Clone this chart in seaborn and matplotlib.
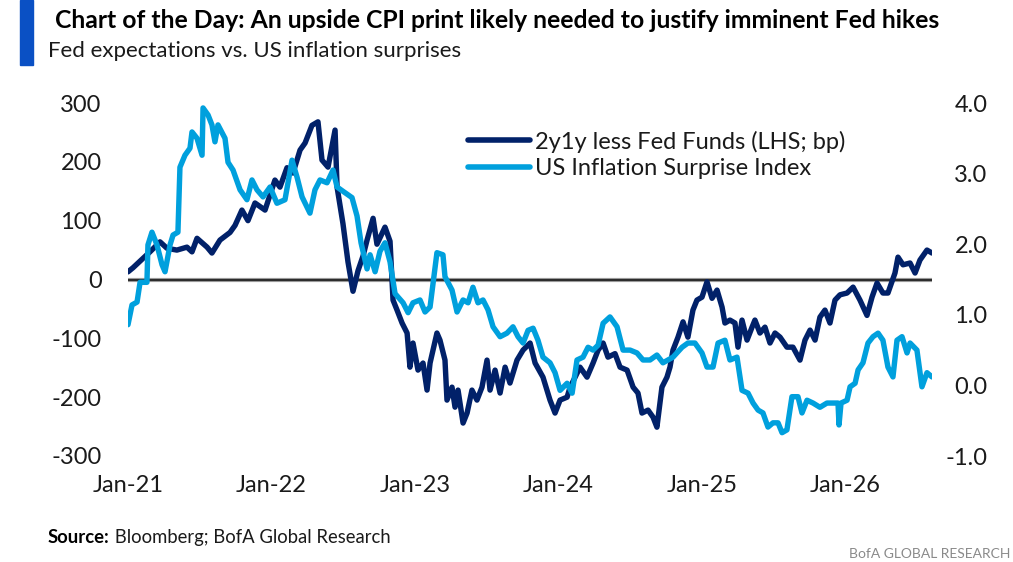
import numpy as np
import pandas as pd
import matplotlib
matplotlib.use("Agg")
import matplotlib.pyplot as plt
import seaborn as sns
from matplotlib.patches import Rectangle

# ---------------- data ----------------
# time in years since 1 Jan 2021
navy_t = [0.000, 0.035, 0.153, 0.223, 0.272, 0.341, 0.411, 0.446, 0.481, 0.551, 0.585, 0.641,
          0.711, 0.746, 0.794, 0.836, 0.885, 0.955, 1.024, 1.059, 1.108, 1.150, 1.199, 1.234,
          1.282, 1.324, 1.352, 1.394, 1.443, 1.457, 1.498, 1.533, 1.568, 1.603, 1.638, 1.666,
          1.708, 1.735, 1.791, 1.826, 1.847, 1.875, 1.910, 1.945, 1.965, 1.986, 2.021, 2.056,
          2.084, 2.105, 2.153, 2.174, 2.209, 2.223, 2.258, 2.279, 2.300, 2.335, 2.363, 2.397,
          2.432, 2.467, 2.502, 2.523, 2.558, 2.593, 2.628, 2.662, 2.711, 2.753, 2.802, 2.837,
          2.892, 2.941, 2.976, 3.011, 3.060, 3.081, 3.116, 3.150, 3.199, 3.241, 3.276, 3.311,
          3.345, 3.394, 3.429, 3.478, 3.520, 3.554, 3.582, 3.624, 3.659, 3.686, 3.721, 3.756,
          3.777, 3.798, 3.833, 3.868, 3.902, 3.937, 3.965, 4.000, 4.035, 4.070, 4.105, 4.140,
          4.160, 4.195, 4.230, 4.251, 4.279, 4.314, 4.349, 4.369, 4.404, 4.439, 4.474, 4.509,
          4.544, 4.592, 4.634, 4.683, 4.718, 4.753, 4.788, 4.822, 4.857, 4.892, 4.927, 4.962,
          5.011, 5.053, 5.101, 5.150, 5.185, 5.220, 5.261, 5.296, 5.345, 5.366, 5.401, 5.450,
          5.485, 5.519, 5.568, 5.603]
navy_v = [13, 20, 47, 64, 53, 50, 55, 47, 70, 55, 45, 67,
          80, 92, 118, 100, 130, 118, 169, 157, 190, 181, 220, 232,
          262, 268, 203, 191, 254, 157, 95, 30, -20, 15, 40, 67,
          104, 60, 89, 65, -35, -52, -74, -91, -149, -108, -154, -142,
          -188, -142, -91, -103, -137, -205, -183, -217, -188, -244, -227, -188,
          -205, -183, -137, -188, -154, -193, -149, -176, -137, -120, -108, -142,
          -166, -205, -227, -205, -200, -183, -166, -149, -166, -142, -120, -108,
          -132, -126, -149, -154, -183, -193, -227, -222, -234, -251, -183, -166,
          -149, -120, -98, -72, -98, -52, -35, -30, -4, -32, -18, -47,
          -74, -69, -74, -115, -69, -103, -81, -69, -91, -81, -108, -91,
          -98, -115, -115, -137, -103, -86, -103, -64, -52, -74, -35, -26,
          -23, -13, -35, -61, -30, -6, -23, -23, 11, 38, 25, 28,
          11, 33, 50, 45]

light_t = [0.000, 0.028, 0.063, 0.084, 0.132, 0.139, 0.167, 0.202, 0.237, 0.258, 0.293, 0.314,
           0.348, 0.362, 0.397, 0.432, 0.446, 0.481, 0.516, 0.523, 0.558, 0.585, 0.606, 0.627,
           0.676, 0.697, 0.732, 0.781, 0.829, 0.864, 0.899, 0.941, 0.990, 1.038, 1.094, 1.143,
           1.178, 1.213, 1.268, 1.303, 1.338, 1.387, 1.429, 1.457, 1.498, 1.561, 1.596, 1.624,
           1.666, 1.687, 1.722, 1.756, 1.791, 1.826, 1.861, 1.917, 1.952, 1.986, 2.035, 2.070,
           2.105, 2.126, 2.153, 2.195, 2.209, 2.258, 2.293, 2.335, 2.370, 2.404, 2.439, 2.474,
           2.509, 2.544, 2.593, 2.641, 2.683, 2.718, 2.753, 2.788, 2.823, 2.857, 2.892, 2.941,
           2.976, 3.011, 3.060, 3.095, 3.129, 3.171, 3.206, 3.241, 3.276, 3.311, 3.359, 3.408,
           3.450, 3.499, 3.547, 3.589, 3.638, 3.686, 3.728, 3.763, 3.798, 3.861, 3.902, 3.951,
           4.000, 4.035, 4.077, 4.112, 4.160, 4.195, 4.244, 4.279, 4.321, 4.356, 4.391, 4.425,
           4.460, 4.495, 4.530, 4.558, 4.592, 4.627, 4.669, 4.697, 4.732, 4.774, 4.822, 4.871,
           4.913, 4.948, 4.955, 4.969, 5.011, 5.032, 5.067, 5.088, 5.122, 5.157, 5.192, 5.227,
           5.261, 5.296, 5.331, 5.359, 5.394, 5.429, 5.450, 5.498, 5.533, 5.568, 5.603]
light_v = [0.86, 1.14, 1.18, 1.46, 1.46, 1.99, 2.17, 1.99, 1.71, 1.61, 1.99, 2.13,
           2.17, 3.09, 3.26, 3.36, 3.59, 3.50, 3.26, 3.93, 3.83, 3.69, 3.45, 3.69,
           3.50, 3.16, 3.05, 2.77, 2.63, 2.91, 2.77, 2.67, 2.81, 2.58, 2.63, 3.19,
           2.95, 2.67, 2.44, 2.77, 2.91, 2.87, 3.05, 2.81, 2.75, 2.66, 2.40, 2.02,
           1.65, 1.85, 1.61, 1.90, 2.02, 1.75, 1.30, 1.17, 1.03, 1.17, 1.21, 1.04,
           1.11, 1.45, 1.88, 1.85, 1.54, 1.35, 1.04, 1.21, 1.17, 1.39, 1.17, 1.21,
           1.07, 0.83, 0.69, 0.74, 0.83, 0.69, 0.60, 0.78, 0.81, 0.64, 0.40, 0.32,
           0.18, -0.07, 0.03, -0.11, 0.36, 0.40, 0.54, 0.50, 0.57, 0.88, 0.97, 0.83,
           0.50, 0.50, 0.46, 0.36, 0.36, 0.43, 0.32, 0.36, 0.40, 0.54, 0.60, 0.60,
           0.46, 0.26, 0.26, 0.60, 0.64, 0.36, 0.40, -0.07, -0.11, -0.25, -0.35, -0.39,
           -0.59, -0.53, -0.53, -0.67, -0.63, -0.16, -0.16, -0.39, -0.21, -0.25, -0.31, -0.25,
           -0.25, -0.25, -0.56, -0.25, -0.21, -0.02, 0.03, 0.22, 0.32, 0.60, 0.69, 0.74,
           0.64, 0.26, 0.12, 0.64, 0.69, 0.46, 0.60, 0.50, -0.02, 0.18, 0.12]

series_names = ["2y1y less Fed Funds (LHS; bp)", "US Inflation Surprise Index"]
left_ticks = [300, 200, 100, 0, -100, -200, -300]
left_labels = ["300", "200", "100", "0", "-100", "-200", "-300"]
right_ticks = [4.0, 3.0, 2.0, 1.0, 0.0, -1.0]
right_labels = ["4.0", "3.0", "2.0", "1.0", "0.0", "-1.0"]
x_tick_years = [2021, 2022, 2023, 2024, 2025, 2026]
x_tick_labels = ["Jan-21", "Jan-22", "Jan-23", "Jan-24", "Jan-25", "Jan-26"]
title = "Chart of the Day: An upside CPI print likely needed to justify imminent Fed hikes"
subtitle = "Fed expectations vs. US inflation surprises"
source_bold = "Source:"
source_rest = " Bloomberg; BofA Global Research"
footer = "BofA GLOBAL RESEARCH"

# ---------------- styling ----------------
NAVY = "#012169"
LIGHT = "#00A0DD"
BAR = "#0A50C4"
TXT = "#1a1a1a"

sns.set_theme(style="white")
FONT = "Lato"
plt.rcParams["font.family"] = [FONT, "DejaVu Sans"]
plt.rcParams["axes.unicode_minus"] = False

W, H = 1013, 562
fig = plt.figure(figsize=(W / 100, H / 100), dpi=100)
fig.patch.set_facecolor("white")

def fx(px):
    return px / W

def fy(py):
    return 1 - py / H

ax_left, ax_right, ax_top, ax_bot = 128, 932, 103, 456
ax = fig.add_axes([fx(ax_left), fy(ax_bot), (ax_right - ax_left) / W, (ax_bot - ax_top) / H])
ax2 = ax.twinx()

base = pd.Timestamp("2021-01-01")
def to_date(years):
    return base + pd.to_timedelta(np.asarray(years, dtype=float) * 365.25, unit="D")

df_navy = pd.DataFrame({"date": to_date(navy_t), "value": navy_v})
df_light = pd.DataFrame({"date": to_date(light_t), "value": light_v})

ax.axhline(0, color="#9a9a9a", lw=3.0, zorder=1)
ax.axhline(0, color="#2a2a2a", lw=1.4, zorder=1.1)
sns.lineplot(data=df_navy, x="date", y="value", ax=ax, color=NAVY, lw=3.9,
             estimator=None, sort=False, zorder=3, label=series_names[0], legend=False)
sns.lineplot(data=df_light, x="date", y="value", ax=ax2, color=LIGHT, lw=3.9,
             estimator=None, sort=False, zorder=3, label=series_names[1], legend=False)

ax.set_xlim(to_date([navy_t[0]])[0], to_date([navy_t[-1]])[0])
ax.set_ylim(-300, 300)
ax2.set_ylim(-1.0, 4.0)

for a in (ax, ax2):
    for s in a.spines.values():
        s.set_visible(False)
    a.set_xlabel("")
    a.set_ylabel("")
    a.set_facecolor("none")
    a.grid(False)

ax.set_yticks(left_ticks)
ax.set_yticklabels(left_labels)
ax2.set_yticks(right_ticks)
ax2.set_yticklabels(right_labels)
xt = [pd.Timestamp(f"{y}-01-01") for y in x_tick_years]
ax.set_xticks(xt)
ax.set_xticklabels(x_tick_labels)

TICK_FS = 17
ax.tick_params(axis="y", length=0, pad=19, labelsize=TICK_FS, labelcolor=TXT)
ax.tick_params(axis="x", length=0, pad=14, labelsize=TICK_FS, labelcolor=TXT)
ax2.tick_params(axis="y", length=0, pad=40, labelsize=TICK_FS, labelcolor=TXT)
for lab in ax2.get_yticklabels():
    lab.set_horizontalalignment("right")

# legend
handles = [ax.get_lines()[-1], ax2.get_lines()[-1]]
LEG_FS = 17
leg = ax.legend(handles, series_names, loc="center left",
                bbox_to_anchor=(fx(468), fy(155)), bbox_transform=fig.transFigure,
                frameon=False, fontsize=LEG_FS, handlelength=44.6 / LEG_FS,
                handletextpad=3.6 / LEG_FS, labelspacing=0.25, borderpad=0,
                borderaxespad=0)
for t in leg.get_texts():
    t.set_color(TXT)
for ln in leg.get_lines():
    ln.set_linewidth(4.0)
    ln.set_solid_capstyle("round")

# header / footer texts
bar = Rectangle((fx(20), fy(65)), fx(33) - fx(20), 65 / H, transform=fig.transFigure,
                color=BAR, zorder=5)
fig.patches.append(bar)

t_title = fig.text(fx(55), fy(28), title, fontsize=17, fontweight="bold", color="black",
                   va="baseline", ha="left")
t_sub = fig.text(fx(48), fy(57), subtitle, fontsize=16, color=TXT, va="baseline", ha="left")
t_src_b = fig.text(fx(48), fy(543), source_bold, fontsize=13, fontweight="bold",
                   color="black", va="baseline", ha="left")
t_src = fig.text(fx(48), fy(543), source_rest, fontsize=13, color=TXT, va="baseline", ha="left")
t_foot = fig.text(fx(1010), fy(560), footer, fontsize=10, color="#8a8a8a", va="bottom",
                  ha="right")

renderer = fig.canvas.get_renderer()

def fit_width(txt, target):
    bb = txt.get_window_extent(renderer)
    if bb.width > 0:
        txt.set_fontsize(txt.get_fontsize() * target / bb.width)

fit_width(t_title, 890)
fit_width(t_sub, 413)
fit_width(t_src_b, 62)
t_src.set_fontsize(t_src_b.get_fontsize())
bb = t_src_b.get_window_extent(renderer)
t_src.set_x(bb.x1 / W)

fig.savefig("out.png", dpi=100, facecolor="white")
